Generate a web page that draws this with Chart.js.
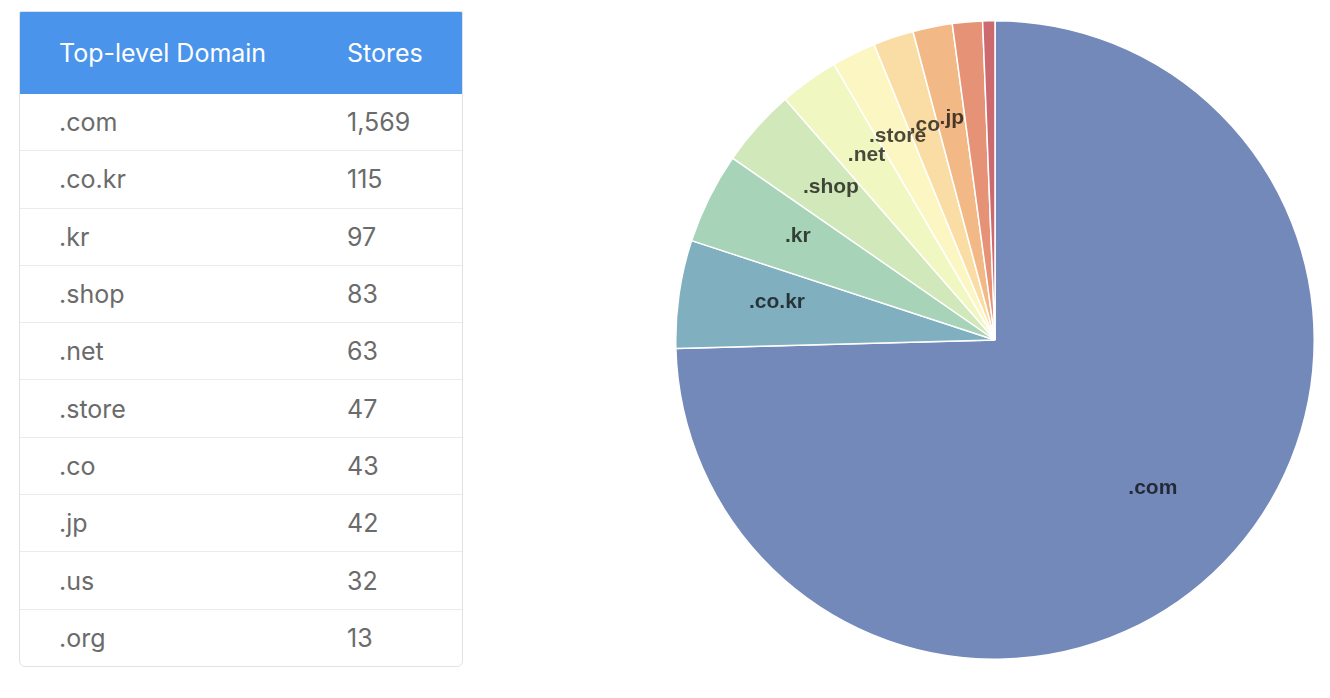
<!DOCTYPE html>
<html>
<head>
<meta charset="utf-8">
<script src="https://cdn.jsdelivr.net/npm/chart.js@4.4.0/dist/chart.umd.min.js"></script>
<style>
    html, body { margin: 0; padding: 0; background: #fff; }
    body { width: 1330px; height: 698px; position: relative; overflow: hidden; font-family: Inter, "Noto Sans", sans-serif; }
    #tableWrap {
        position: absolute; left: 19px; top: 11px; width: 442px;
        border: 1px solid #dfe3e7; border-radius: 2px 2px 6px 6px; overflow: hidden;
    }
    table { width: 100%; border-collapse: collapse; table-layout: fixed; }
    th { background: #4a94eb; color: #fff; font-weight: 400; font-size: 25px; text-align: left; height: 82px; padding: 0 0 0 39px; }
    td { color: #6b6b6b; font-size: 25px; height: 56.3px; padding: 0 0 0 39px; border-top: 1px solid #e9ecef; }
    tr:first-child td { border-top: none; }
    #chartBox { position: absolute; left: 675px; top: 19px; width: 640px; height: 642px; }
</style>
</head>
<body>
<div id="tableWrap">
    <table>
        <colgroup><col style="width:288px"><col></colgroup>
        <thead><tr><th>Top-level Domain</th><th>Stores</th></tr></thead>
        <tbody id="tbody"></tbody>
    </table>
</div>
<div id="chartBox"><canvas id="myChart"></canvas></div>
<script>
// données
const domaines = ['.com', '.co.kr', '.kr', '.shop', '.net', '.store', '.co', '.jp', '.us', '.org'];
const magasins = [1569, 115, 97, 83, 63, 47, 43, 42, 32, 13];
const couleurs = ['#7389ba', '#80b0bf', '#a7d3b9', '#d1e8ba', '#f0f7c1', '#fcf6c2', '#f9dda5', '#f2b987', '#e59276', '#cc6a70'];

// tableau
const tbody = document.getElementById('tbody');
domaines.forEach((d, i) => {
    const tr = document.createElement('tr');
    tr.innerHTML = '<td>' + d + '</td><td>' + magasins[i].toLocaleString('en-US') + '</td>';
    tbody.appendChild(tr);
});

// étiquettes sur les parts (les petites parts < 1.9 % restent sans texte)
const etiquettes = {
    id: 'etiquettes',
    afterDatasetsDraw(chart) {
        const ctx = chart.ctx;
        const data = chart.data.datasets[0].data;
        const total = data.reduce((a, b) => a + b, 0);
        ctx.save();
        ctx.font = 'bold 21px "Liberation Sans", Arial, sans-serif';
        ctx.textAlign = 'center';
        ctx.textBaseline = 'alphabetic';
        ctx.fillStyle = 'rgba(0,0,0,0.7)';
        chart.getDatasetMeta(0).data.forEach((arc, i) => {
            if (data[i] / total < 0.019) return;
            const p = arc.getProps(['x', 'y', 'startAngle', 'endAngle', 'outerRadius'], true);
            const a = (p.startAngle + p.endAngle) / 2;
            const r = p.outerRadius * 0.69;
            ctx.fillText(chart.data.labels[i], p.x + Math.cos(a) * r, p.y + Math.sin(a) * r);
        });
        ctx.restore();
    }
};

Chart.defaults.animation = false;
new Chart(document.getElementById('myChart'), {
    type: 'pie',
    data: {
        labels: domaines,
        datasets: [{ data: magasins, backgroundColor: couleurs, borderColor: '#fff', borderWidth: 1.5 }]
    },
    options: {
        responsive: true,
        maintainAspectRatio: false,
        plugins: { legend: { display: false }, tooltip: { enabled: false } }
    },
    plugins: [etiquettes]
});
</script>
</body>
</html>
